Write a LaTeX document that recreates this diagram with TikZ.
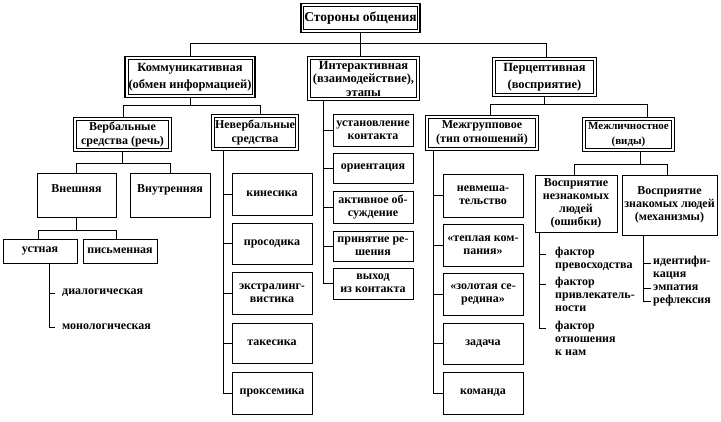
\documentclass[tikz,border=0pt]{standalone}
\usepackage{fontspec}
\setmainfont{Liberation Serif}
\pgfdeclarelayer{bgzero}
\pgfdeclarelayer{background}
\pgfsetlayers{bgzero,background,main}
\begin{document}
\begin{tikzpicture}[x=1pt,y=-1pt,
  every node/.style={font=\fontsize{12}{13}\selectfont\bfseries, inner sep=0.5pt, align=center},
  bx/.style 2 args={draw, line width=0.9pt, minimum width=#1pt, minimum height=#2pt},
  dbx/.style 2 args={bx={#1}{#2}, line width=0.7pt},
  hdA/.style={font=\fontsize{12.5}{16.5}\selectfont\bfseries},
  hdB/.style={font=\fontsize{12}{14.5}\selectfont\bfseries},
  conn/.style={line width=0.8pt},
  lab/.style={align=left, inner sep=0pt, anchor=north west}]
\begin{pgfonlayer}{bgzero}
\useasboundingbox[fill=white] (0,0) rectangle (721,422);
\end{pgfonlayer}

% level 0 and 1
\node[dbx={110}{23}, font=\fontsize{13.5}{15}\selectfont\bfseries] (top) at (360.5,18) {Стороны общения};
\node[dbx={123}{35}, hdA] (kom) at (190,77) {Коммуникативная\\(обмен информацией)};
\node[dbx={106}{38}, font=\fontsize{12.5}{13.5}\selectfont\bfseries] (int) at (363.5,78.5) {Интерактивная\\(взаимодействие),\\этапы};
\node[dbx={98}{33}, hdA] (per) at (544.5,77) {Перцептивная\\(восприятие)};

% level 2
\node[dbx={92}{28}, hdB] (verb) at (122.5,134.5) {Вербальные\\средства (речь)};
\node[dbx={79}{30}, hdB] (never) at (255,132.5) {Невербальные\\средства};
\node[dbx={107}{29}, hdB] (mezhg) at (482,133) {Межгрупповое\\(тип отношений)};
\node[dbx={86}{28}, font=\fontsize{11}{14.5}\selectfont\bfseries] (mezhl) at (628.5,134.5) {Межличностное\\(виды)};

% verbal branch
\node[bx={79}{44}] (vnesh) at (76.5,195) {Внешняя\\\phantom{Вн}};
\node[bx={80}{44}] (vnutr) at (170,195) {Внутренняя\\\phantom{Вн}};
\node[bx={74}{24}] (ustn) at (40,251) {устная};
\node[bx={74}{24}] (pism) at (120,251) {письменная};
\node[lab, anchor=west] (dial) at (62,293) {диалогическая};
\node[lab, anchor=west] (mono) at (62,327) {монологическая};

% nonverbal
\node[bx={80}{42}] (n1) at (272,194) {кинесика};
\node[bx={80}{41}] (n2) at (272,243.5) {просодика};
\node[bx={80}{42}] (n3) at (272,293) {экстралинг-\\вистика};
\node[bx={80}{40}] (n4) at (272,343) {такесика};
\node[bx={80}{42}] (n5) at (272,393) {проксемика};

% interactive
\node[bx={80}{32}] (i1) at (373,130) {установление\\контакта};
\node[bx={80}{30}] (i2) at (373,168) {ориентация};
\node[bx={80}{32}] (i3) at (373,207) {активное об-\\суждение};
\node[bx={80}{30}] (i4) at (373,246) {принятие ре-\\шения};
\node[bx={80}{31}] (i5) at (373,283.5) {выход\\из контакта};

% intergroup
\node[bx={80}{43}] (g1) at (483,195.5) {невмеша-\\тельство};
\node[bx={80}{42}] (g2) at (483,245) {«теплая ком-\\пания»};
\node[bx={80}{42}] (g3) at (483,294) {«золотая се-\\редина»};
\node[bx={80}{41}] (g4) at (483,343.5) {задача};
\node[bx={80}{42}] (g5) at (483,393) {команда};

% interpersonal
\node[bx={82}{57}] (v1) at (576,203.5) {Восприятие\\незнакомых\\людей\\(ошибки)};
\node[bx={95}{60}] (v2) at (669.5,205) {Восприятие\\знакомых людей\\(механизмы)};
\node[lab] (k1) at (555,247) {фактор\\превосходства};
\node[lab] (k2) at (555,277) {фактор\\привлекатель-\\ности};
\node[lab] (k3) at (555,321) {фактор\\отношения\\к нам};
\node[lab] (m1) at (653,256) {идентифи-\\кация};
\node[lab, anchor=west] (m2) at (653,288) {эмпатия};
\node[lab, anchor=west] (m3) at (653,301) {рефлексия};

\coordinate (k1t) at ([yshift=-7pt]k1.north west);
\coordinate (k2t) at ([yshift=-7pt]k2.north west);
\coordinate (k3t) at ([yshift=-7pt]k3.north west);
\coordinate (m1t) at ([yshift=-7pt]m1.north west);

% spines / bus coordinates
\coordinate (tA) at (190,43);
\coordinate (tB) at (546,43);
\coordinate (kA) at (123,105);
\coordinate (kB) at (260,105);
\coordinate (pA) at (490,104);
\coordinate (pB) at (647,104);
\coordinate (vb) at (123,163);
\coordinate (eA) at (38,230);
\coordinate (eB) at (116,230);
\coordinate (lA) at (574,164);
\coordinate (lB) at (667,164);
\coordinate (lC) at (640,164);
\coordinate (us) at (49,0);
\coordinate (nsp) at (223,0);
\coordinate (isp) at (323,0);
\coordinate (gsp) at (433,0);
\coordinate (ksp) at (539,0);
\coordinate (msp) at (643,0);

\begin{pgfonlayer}{background}
\draw[conn] (top.south) -- (top.south |- int.north);
\draw[conn] (kom.north -| tA) -- (tA) -- (tB) -- (per.north -| tB);
\draw[conn] (kom.south) -- (kom.south |- kA);
\draw[conn] (verb.north -| kA) -- (kA) -- (kB) -- (never.north -| kB);
\draw[conn] (per.south) -- (per.south |- pA);
\draw[conn] (mezhg.north -| pA) -- (pA) -- (pB) -- (mezhl.north -| pB);
\draw[conn] (verb.south) -- (verb.south |- vb);
\draw[conn] (vnesh.north) -- (vnesh.north |- vb) -- (vnutr.north |- vb) -- (vnutr.north);
\draw[conn] (vnesh.south) -- (vnesh.south |- eA);
\draw[conn] (ustn.north -| eA) -- (eA) -- (eB) -- (pism.north -| eB);
\draw[conn] (ustn.south -| us) -- (us |- mono.west) -- ([xshift=-7pt]mono.west);
\draw[conn] (us |- dial.west) -- ([xshift=-7pt]dial.west);
\draw[conn] (mezhl.south -| lC) -- (lC);
\draw[conn] (v1.north -| lA) -- (lA) -- (lB) -- (v2.north -| lB);
% nonverbal spine
\draw[conn] (never.south -| nsp) -- (nsp |- n5.west) -- (n5.west);
\foreach \n in {n1,n2,n3,n4} \draw[conn] (nsp |- \n.west) -- (\n.west);
% interactive spine
\draw[conn] (int.south -| isp) -- (isp |- i5.west) -- (i5.west);
\foreach \n in {i1,i2,i3,i4} \draw[conn] (isp |- \n.west) -- (\n.west);
% intergroup spine
\draw[conn] (mezhg.south -| gsp) -- (gsp |- g5.west) -- (g5.west);
\foreach \n in {g1,g2,g3,g4} \draw[conn] (gsp |- \n.west) -- (\n.west);
% factors
\draw[conn] (v1.south -| ksp) -- (ksp |- k3t) -- ([xshift=-9pt]k3t);
\draw[conn] (ksp |- k1t) -- ([xshift=-9pt]k1t);
\draw[conn] (ksp |- k2t) -- ([xshift=-9pt]k2t);
% mechanisms
\draw[conn] (v2.south -| msp) -- (msp |- m3.west) -- ([xshift=-2pt]m3.west);
\draw[conn] (msp |- m1t) -- ([xshift=-2pt]m1t);
\draw[conn] (msp |- m2.west) -- ([xshift=-2pt]m2.west);
% double-border outer frames
\foreach \n in {top,kom,int,per,verb,never,mezhg,mezhl}
  \draw[line width=1.8pt, fill=white] ([shift={(-2.6pt,-2.6pt)}]\n.south west) rectangle ([shift={(2.6pt,2.6pt)}]\n.north east);
\end{pgfonlayer}
\end{tikzpicture}
\end{document}
